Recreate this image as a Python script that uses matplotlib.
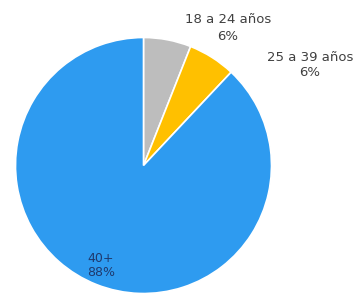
import matplotlib
matplotlib.use("Agg")
import matplotlib.pyplot as plt

labels = ["18 a 24 años", "25 a 39 años", "40+"]
values = [6, 6, 88]
colors = ["#BDBDBD", "#FFC000", "#2E9BF0"]

plt.rcParams["font.family"] = ["DejaVu Sans"]

fig = plt.figure(figsize=(3.63, 2.96), dpi=100)
ax = fig.add_axes([0, 0, 1, 1])
# pie centre and radius in pixels, so the axes map 1:1 onto the image
cx, cy, r = 143.5, 165.5, 128

ax.pie(values, colors=colors, startangle=90, counterclock=False,
       wedgeprops=dict(edgecolor="white", linewidth=1.2))

ax.set_xlim(-cx / r, (363 - cx) / r)
ax.set_ylim(-(296 - cy) / r, cy / r)
ax.set_aspect("equal")
ax.axis("off")


def px(x, y):
    return (x - cx) / r, (cy - y) / r


ax.text(*px(228, 28), f"{labels[0]}\n{values[0]}%", ha="center", va="center",
        fontsize=9.5, color="#404040", linespacing=1.45)
ax.text(*px(310, 65), f"{labels[1]}\n{values[1]}%", ha="center", va="center",
        fontsize=9.5, color="#404040", linespacing=1.15)
ax.text(*px(101, 266), f"{labels[2]}\n{values[2]}%", ha="center", va="center",
        fontsize=9, color="#1F3A6E", linespacing=1.1)

fig.savefig("out.png", dpi=100)
